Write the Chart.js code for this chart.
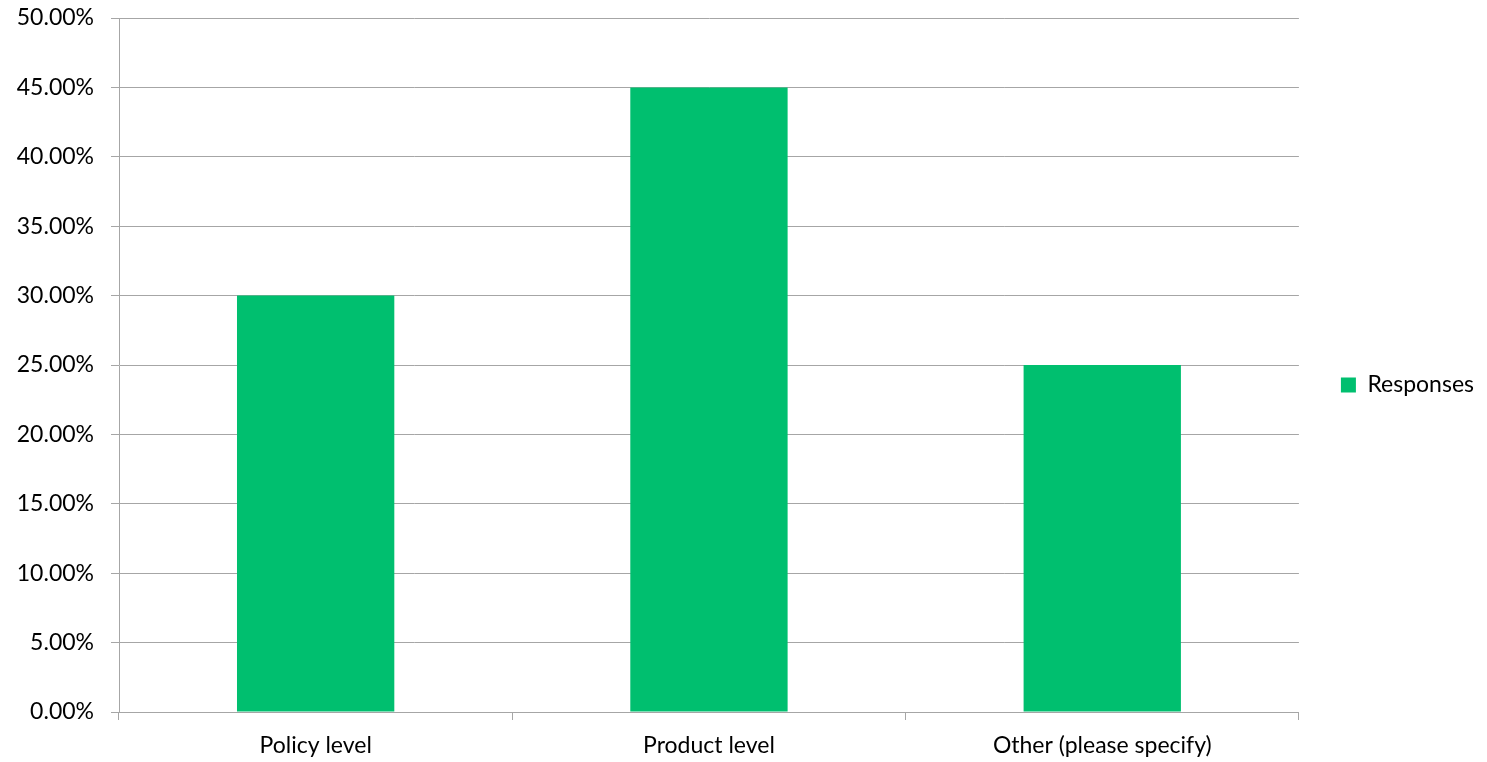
<!DOCTYPE html>
<html>
<head>
<meta charset="utf-8">
<script src="https://cdn.jsdelivr.net/npm/chart.js@4/dist/chart.umd.min.js"></script>
<style>
html,body{margin:0;padding:0;background:#fff;}
canvas{display:block;}
</style>
</head>
<body>
<canvas id="c" width="1487" height="762"></canvas>
<script>
const categories = ["Policy level", "Product level", "Other (please specify)"];
const seriesName = "Responses";
const responses = [0.30, 0.45, 0.25];
const yTicks = [0, 0.05, 0.10, 0.15, 0.20, 0.25, 0.30, 0.35, 0.40, 0.45, 0.50];

const FONT = "'Lato', 'Liberation Sans', sans-serif";
const GRID = '#a6a6a6';

new Chart(document.getElementById('c'), {
  type: 'bar',
  data: {
    labels: categories,
    datasets: [{
      label: seriesName,
      data: responses,
      backgroundColor: '#00bf6f',
      borderWidth: 0,
      categoryPercentage: 1.0,
      barPercentage: 0.4
    }]
  },
  options: {
    responsive: false,
    devicePixelRatio: 1,
    animation: false,
    layout: { padding: { top: 8, right: 3, bottom: 0, left: 0 } },
    plugins: {
      tooltip: { enabled: false },
      legend: {
        position: 'right',
        align: 'center',
        labels: {
          boxWidth: 15,
          boxHeight: 15,
          padding: 42,
          color: '#000',
          font: { family: FONT, size: 23 }
        }
      }
    },
    scales: {
      x: {
        grid: {
          display: true,
          offset: true,
          drawOnChartArea: false,
          drawTicks: true,
          tickLength: 8,
          color: GRID,
          lineWidth: 1
        },
        border: { display: true, color: GRID, width: 1 },
        ticks: {
          color: '#000',
          padding: 12,
          font: { family: FONT, size: 23 },
          maxRotation: 0
        },
        afterFit: (s) => { s.height = 50; s.paddingLeft = 0; s.paddingRight = 0; }
      },
      y: {
        min: 0,
        max: 0.5,
        afterBuildTicks: (s) => { s.ticks = yTicks.map(v => ({ value: v })); },
        grid: {
          color: GRID,
          lineWidth: 1,
          drawTicks: true,
          tickLength: 8
        },
        border: { display: true, color: GRID, width: 1 },
        ticks: {
          color: '#000',
          padding: 17,
          font: { family: FONT, size: 23 },
          callback: (v) => (v * 100).toFixed(2) + '%'
        },
        afterFit: (s) => { s.width = 119; s.paddingTop = 18; s.paddingBottom = 0; }
      }
    }
  }
});
</script>
</body>
</html>
